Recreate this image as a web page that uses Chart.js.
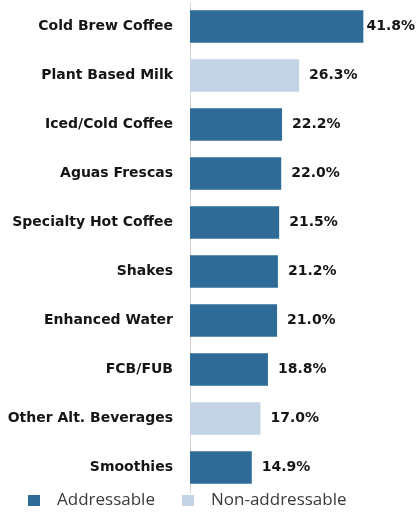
<!DOCTYPE html>
<html>
<head>
<meta charset="utf-8">
<script src="https://cdn.jsdelivr.net/npm/chart.js@4"></script>
<style>
  html, body { margin: 0; padding: 0; background: #fff; }
  #wrap { width: 416px; height: 516px; }
</style>
</head>
<body>
<div id="wrap"><canvas id="bebidasChart"></canvas></div>
<script>
// dados do grafico
const categorias = ['Cold Brew Coffee', 'Plant Based Milk', 'Iced/Cold Coffee', 'Aguas Frescas',
    'Specialty Hot Coffee', 'Shakes', 'Enhanced Water', 'FCB/FUB', 'Other Alt. Beverages', 'Smoothies'];
const valores = [41.8, 26.3, 22.2, 22.0, 21.5, 21.2, 21.0, 18.8, 17.0, 14.9];
const enderecavel = [true, false, true, true, true, true, true, true, false, true];
const legendaTextos = ['Addressable', 'Non-addressable'];

const corEscura = '#2E6B97';
const corClara = '#C4D3E6';
const corTexto = '#151515';

const ctx = document.getElementById('bebidasChart').getContext('2d');

// rotulos de valor no fim das barras
const rotulosValor = {
    id: 'rotulosValor',
    afterDatasetsDraw(chart) {
        const c = chart.ctx;
        const meta = chart.getDatasetMeta(0);
        c.save();
        c.font = 'bold 14px "DejaVu Sans"';
        c.fillStyle = corTexto;
        c.textBaseline = 'middle';
        meta.data.forEach((bar, i) => {
            const txt = valores[i].toFixed(1) + '%';
            const w = c.measureText(txt).width;
            const x = Math.min(bar.x + 10, chart.width - w - 1);
            c.fillText(txt, x, bar.y);
        });
        c.restore();
    }
};

// legenda desenhada embaixo
const legendaBaixo = {
    id: 'legendaBaixo',
    afterDraw(chart) {
        const c = chart.ctx;
        const cores = [corEscura, corClara];
        const posicoes = [28, 182];
        const y = 500;
        c.save();
        c.font = '17px "Open Sans"';
        c.textBaseline = 'middle';
        legendaTextos.forEach((txt, i) => {
            c.fillStyle = cores[i];
            c.fillRect(posicoes[i], y - 5, 12, 11);
            c.fillStyle = '#3a3a3a';
            c.fillText(txt, posicoes[i] + 29, y);
        });
        c.restore();
    }
};

const bebidasChart = new Chart(ctx, {
    type: 'bar',
    data: {
        labels: categorias,
        datasets: [{
            label: 'Share',
            data: valores,
            backgroundColor: enderecavel.map(e => e ? corEscura : corClara),
            borderWidth: 0,
            barPercentage: 0.66,
            categoryPercentage: 1
        }]
    },
    options: {
        indexAxis: 'y',
        responsive: true,
        maintainAspectRatio: false,
        animation: false,
        layout: {
            padding: { top: 2, bottom: 24, left: 0, right: 0 }
        },
        plugins: {
            legend: { display: false },
            tooltip: { enabled: false }
        },
        scales: {
            x: {
                display: false,
                min: 0,
                max: 54.5
            },
            y: {
                afterFit: (scale) => {
                    scale.width = 190;
                    scale.paddingTop = 0;
                    scale.paddingBottom = 0;
                },
                grid: { display: false, drawTicks: false },
                border: { display: true, color: '#d4d4d4', width: 1 },
                ticks: {
                    padding: 17,
                    color: corTexto,
                    font: { family: '"DejaVu Sans"', size: 14, weight: 'bold' }
                }
            }
        }
    },
    plugins: [rotulosValor, legendaBaixo]
});
</script>
</body>
</html>
